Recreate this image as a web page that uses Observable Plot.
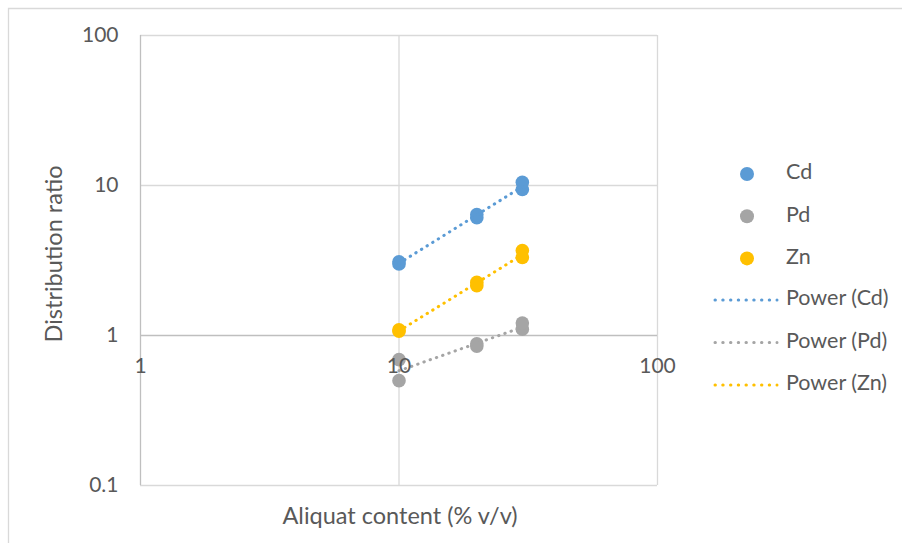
<!DOCTYPE html>
<html>
<head>
<meta charset="utf-8">
<script src="https://cdn.jsdelivr.net/npm/d3@7"></script>
<script src="https://cdn.jsdelivr.net/npm/@observablehq/plot@0.6"></script>
<style>
  html, body { margin: 0; padding: 0; background: #fff; }
  #chart { position: relative; width: 902px; height: 543px; overflow: hidden; }
  #chart svg { position: absolute; left: 0; top: 0; }
</style>
</head>
<body>
<div id="chart"></div>
<script>
// Aliquat content (% v/v) for each measurement
const aliquat = [10, 10, 20, 20, 30, 30];
// Distribution ratios per metal
const cd = [3.0, 3.1, 6.1, 6.4, 9.4, 10.5];
const pd = [0.50, 0.69, 0.85, 0.88, 1.10, 1.21];
const zn = [1.07, 1.09, 2.15, 2.26, 3.31, 3.69];

const metals = ["Cd", "Pd", "Zn"];
const colors = ["#5b9bd5", "#a5a5a5", "#ffc000"];
const seriesValues = [cd, pd, zn];

const xTicks = [1, 10, 100];
const xTickLabels = ["1", "10", "100"];
const yTicks = [0.1, 1, 10, 100];
const yTickLabels = ["0.1", "1", "10", "100"];

const FONT = "Lato, 'Open Sans', sans-serif";
const INK = "#595959";

// long-format point table
const points = metals.flatMap((m, i) =>
  aliquat.map((a, j) => ({metal: m, x: a, y: seriesValues[i][j]})));

// power-law (log-log least squares) trend for each metal, spanning the data range
function powerFit(xs, ys) {
  const lx = xs.map(Math.log), ly = ys.map(Math.log);
  const mx = d3.mean(lx), my = d3.mean(ly);
  const b = d3.sum(lx, (v, k) => (v - mx) * (ly[k] - my)) / d3.sum(lx, v => (v - mx) ** 2);
  const a = Math.exp(my - b * mx);
  return x => a * Math.pow(x, b);
}
const [xMin, xMax] = d3.extent(aliquat);
const trends = metals.flatMap((m, i) => {
  const f = powerFit(aliquat, seriesValues[i]);
  return d3.range(0, 41).map(k => {
    const x = xMin * Math.pow(xMax / xMin, k / 40);
    return {metal: m, x, y: f(x)};
  });
});

const plot = Plot.plot({
  width: 902,
  height: 543,
  marginLeft: 140,
  marginRight: 245,
  marginTop: 35,
  marginBottom: 58,
  style: {fontFamily: FONT, background: "transparent", overflow: "visible"},
  x: {type: "log", domain: [1, 100], axis: null},
  y: {type: "log", domain: [0.1, 100], axis: null},
  color: {domain: metals, range: colors},
  marks: [
    Plot.ruleX([10, 100], {stroke: "#d9d9d9", strokeWidth: 1.3}),
    Plot.ruleY([0.1, 10, 100], {stroke: "#d9d9d9", strokeWidth: 1.3}),
    Plot.ruleX([1], {stroke: "#bfbfbf", strokeWidth: 1.3}),
    Plot.ruleY([1], {stroke: "#bfbfbf", strokeWidth: 1.3}),
    Plot.dot(points, {x: "x", y: "y", fill: "metal", r: 6.8, stroke: null}),
    Plot.line(trends, {
      x: "x", y: "y", z: "metal", stroke: "metal", strokeWidth: 3,
      strokeDasharray: "0.4 6.2", strokeLinecap: "round", curve: "linear"
    }),
    Plot.text(xTicks, {
      x: d => d, y: () => 1, text: (d, i) => xTickLabels[i],
      dy: 31, fill: INK, fontSize: 21, fontFamily: FONT
    }),
    Plot.text(yTicks, {
      x: () => 1, y: d => d, text: (d, i) => yTickLabels[i],
      dx: -22, textAnchor: "end", fill: INK, fontSize: 21, fontFamily: FONT
    })
  ]
});

const svg = d3.select(plot);

// axis titles
svg.append("text")
  .attr("x", 400).attr("y", 518)
  .attr("text-anchor", "middle").attr("dominant-baseline", "middle")
  .attr("fill", INK).attr("font-family", FONT).attr("font-size", 23.5)
  .text("Aliquat content (% v/v)");
svg.append("text")
  .attr("transform", "translate(56,254) rotate(-90)")
  .attr("text-anchor", "middle").attr("dominant-baseline", "middle")
  .attr("fill", INK).attr("font-family", FONT).attr("font-size", 23.5)
  .text("Distribution ratio");

// legend: marker entries then trendline entries
const legend = svg.append("g")
  .attr("font-family", FONT).attr("font-size", 21.5).attr("fill", INK)
  .attr("text-anchor", "start");
metals.forEach((m, i) => {
  const y = 174 + i * 42.2;
  legend.append("circle").attr("cx", 747).attr("cy", y).attr("r", 7).attr("fill", colors[i]);
  legend.append("text").attr("x", 786).attr("y", y).attr("dominant-baseline", "middle").text(m);
});
metals.forEach((m, i) => {
  const y = 300 + i * 42.5;
  legend.append("line").attr("x1", 715).attr("x2", 777).attr("y1", y).attr("y2", y)
    .attr("stroke", colors[i]).attr("stroke-width", 3)
    .attr("stroke-dasharray", "0.4 7.35").attr("stroke-linecap", "round");
  legend.append("text").attr("x", 786).attr("y", y).attr("dominant-baseline", "middle")
    .text(`Power (${m})`);
});

// chart-area frame (top and left edges)
svg.append("path")
  .attr("d", "M8.5,543V8.5H902")
  .attr("fill", "none").attr("stroke", "#d9d9d9").attr("stroke-width", 1.3);

document.getElementById("chart").appendChild(plot);
</script>
</body>
</html>
